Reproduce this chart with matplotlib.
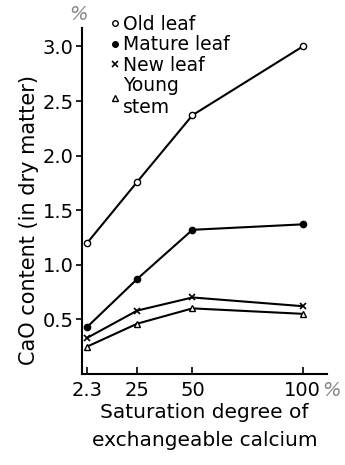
import matplotlib
matplotlib.use("Agg")
import matplotlib.pyplot as plt

x_vals = [2.3, 25, 50, 100]
x_labels = ["2.3", "25", "50", "100"]
old_leaf = [1.20, 1.76, 2.37, 3.00]
mature_leaf = [0.43, 0.87, 1.32, 1.37]
new_leaf = [0.33, 0.58, 0.70, 0.62]
young_stem = [0.25, 0.46, 0.60, 0.55]
y_ticks = [0.5, 1.0, 1.5, 2.0, 2.5, 3.0]

plt.rcParams['font.family'] = ['DejaVu Sans']
fig = plt.figure(figsize=(3.45, 4.65), dpi=100)
ax = fig.add_axes([0.238, 0.196, 0.71, 0.744])

lw = 1.5
ax.plot(x_vals, old_leaf, '-o', color='black', mfc='white', mec='black', ms=4.5, lw=lw, label='Old leaf')
ax.plot(x_vals, mature_leaf, '-o', color='black', mfc='black', ms=4.5, lw=lw, label='Mature leaf')
ax.plot(x_vals, new_leaf, '-x', color='black', ms=5, mew=1.2, lw=lw, label='New leaf')
ax.plot(x_vals, young_stem, '-^', color='black', mfc='white', ms=4.5, lw=lw, label='Young\nstem')

ax.set_xlim(0, 111)
ax.set_ylim(0, 3.17)
ax.set_xticks(x_vals)
ax.set_xticklabels(x_labels, fontsize=14)
ax.set_yticks(y_ticks)
ax.set_yticklabels([f"{v:.1f}" for v in y_ticks], fontsize=14)
ax.tick_params(axis='x', direction='in', length=5, width=1.2, pad=5)
ax.tick_params(axis='y', direction='out', length=4, width=1.2, pad=2)
for s in ['top', 'right']:
    ax.spines[s].set_visible(False)
for s in ['left', 'bottom']:
    ax.spines[s].set_linewidth(1.5)

ax.set_ylabel("CaO content (in dry matter)", fontsize=15, labelpad=4)
ax.yaxis.set_label_coords(-0.175, 0.445)
ax.set_xlabel("Saturation degree of\nexchangeable calcium", fontsize=14.5, labelpad=2, linespacing=1.6)

fig.text(78/345, 1 - 15/465, "%", fontsize=14, color='#888888', ha='center', va='center', style='italic')
fig.text(331/345, 1 - 390/465, "%", fontsize=14, color='#888888', ha='center', va='center', style='italic')

leg = ax.legend(loc='upper left', bbox_to_anchor=(0.09, 1.06), frameon=False, fontsize=13.5,
                handlelength=0.4, handletextpad=0.2, labelspacing=0.08, borderaxespad=0)
for h in leg.legend_handles:
    h.set_linestyle('none')
    h.set_markersize(4)

fig.savefig("out.png", dpi=100)
